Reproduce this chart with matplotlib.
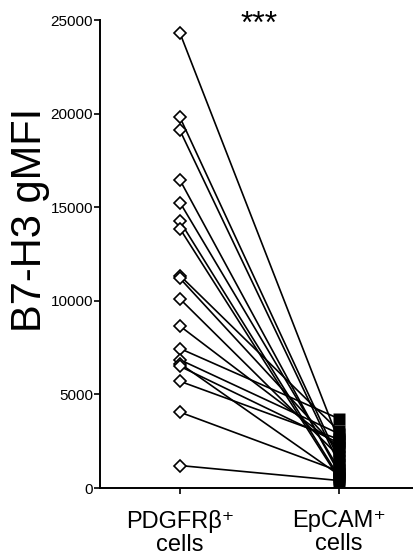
import matplotlib.pyplot as plt

plt.rcParams['font.family'] = ['Liberation Sans', 'DejaVu Sans']

groups = ['PDGFRβ⁺\ncells', 'EpCAM⁺\ncells']
pdgfr = [24300, 19800, 19100, 16450, 15250, 14250, 13850, 11350, 11200,
         10100, 8650, 7450, 6850, 6650, 6500, 5700, 4050, 1200]
epcam = [2500, 1500, 1300, 800, 1000, 600, 500, 3050, 2000,
         1700, 2200, 3700, 2900, 700, 2400, 2600, 900, 400]

fig = plt.figure(figsize=(4.14, 5.58), dpi=100)
ax = fig.add_axes([100 / 414, 70 / 558, 314 / 414, 468 / 558])

for a, b in zip(pdgfr, epcam):
    ax.plot([0, 1], [a, b], color='black', lw=1.2, zorder=1)
ax.plot([0] * len(pdgfr), pdgfr, 'D', ms=6, mfc='white', mec='black',
        mew=1.2, zorder=3, ls='none')
ax.plot([1] * len(epcam), epcam, 's', ms=8, mfc='black', mec='none',
        zorder=3, ls='none')

ax.set_xlim(-0.503, 1.472)
ax.set_ylim(0, 25000)
ax.set_yticks([0, 5000, 10000, 15000, 20000, 25000])
ax.set_xticks([0, 1])
ax.set_xticklabels(groups, fontsize=17, linespacing=1.05)
ax.tick_params(axis='y', labelsize=11, width=1.2, length=4, pad=1)
ax.tick_params(axis='x', width=1.2, length=4, pad=12)

for s in ['top', 'right']:
    ax.spines[s].set_visible(False)
for s in ['left', 'bottom']:
    ax.spines[s].set_linewidth(1.4)

fig.text(30 / 414, 1 - 220 / 558, 'B7-H3 gMFI', rotation=90, fontsize=30,
         ha='center', va='center')
ax.text(0.5, 24750, '***', ha='center', va='center', fontsize=23,
        clip_on=False)

fig.savefig('out.png', dpi=100)
